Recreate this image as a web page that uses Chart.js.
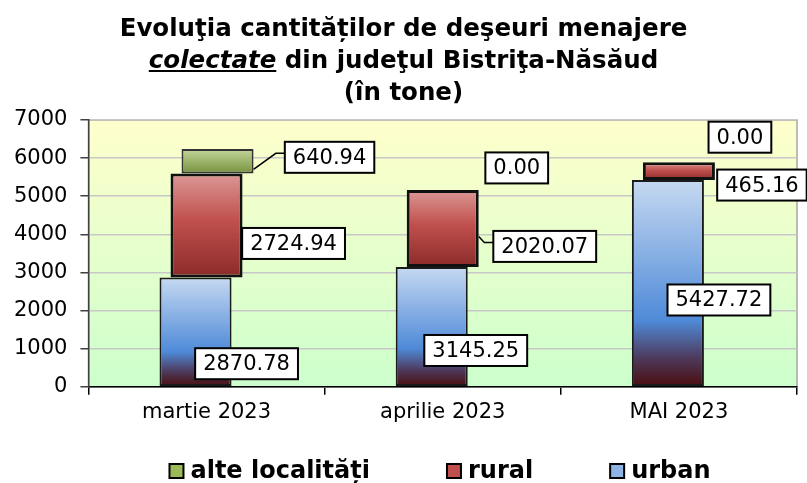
<!DOCTYPE html>
<html>
<head>
<meta charset="utf-8">
<script src="https://cdn.jsdelivr.net/npm/chart.js@4.4.1/dist/chart.umd.min.js"></script>
<style>
  html, body { margin: 0; padding: 0; background: #fff; }
  #wrap { position: relative; width: 807px; height: 483px; }
  #title {
    position: absolute; left: 0; top: 12px; width: 807px;
    text-align: center; color: #000;
    font: bold 24.5px "DejaVu Sans", sans-serif; line-height: 32px;
  }
</style>
</head>
<body>
<div id="wrap">
  <canvas id="graph" width="807" height="483"></canvas>
  <div id="title">Evoluţia cantităților de deşeuri menajere<br><i><u>colectate</u></i> din judeţul Bistriţa-Năsăud<br>(în tone)</div>
</div>
<script>
// data
const categories = ['martie 2023', 'aprilie 2023', 'MAI 2023'];
const urban = [2870.78, 3145.25, 5427.72];
const rural = [2724.94, 2020.07, 465.16];
const alteLocalitati = [640.94, 0.00, 0.00];
const seriesNames = ['urban', 'rural', 'alte localități'];
const yMin = 0, yMax = 7000, yStep = 1000;

const seriesValues = [urban, rural, alteLocalitati];

// styles: depth shift of each series, gradients, label box offsets
const seriesStyle = [
  { shift: -11, border: '#1a1a1a', width: 2, legend: '#8db4e2',
    stops: [[0, '#c6d9f1'], [0.68, '#4f8ad8'], [0.86, '#4d3a5c'], [1, '#4a0c0c']],
    labelOffsets: [[15, 32], [8, 24], [15, 17]] },
  { shift: 0, border: '#111', width: 3, legend: '#c0504d',
    stops: [[0, '#db9896'], [0.45, '#c0504d'], [1, '#8a2b29']],
    labelOffsets: [[51, 18], [66, 18], [47, 14]] },
  { shift: 11, border: '#333', width: 2, legend: '#9bbb59',
    stops: [[0, '#c3d69b'], [1, '#76923c']],
    labelOffsets: [[76, -4], [27, -22], [14, -25]] }
];

function stackBase(di, i) {
  let s = 0;
  for (let k = 0; k < di; k++) s += seriesValues[k][i];
  return s;
}

function barFill(di) {
  return (ctx) => {
    const st = seriesStyle[di];
    if (ctx.type !== 'data') return st.legend;
    const y = ctx.chart.scales.y;
    if (!y) return st.legend;
    const base = stackBase(di, ctx.dataIndex);
    const top = y.getPixelForValue(base + seriesValues[di][ctx.dataIndex]);
    const bottom = y.getPixelForValue(base);
    if (!isFinite(top) || !isFinite(bottom) || top === bottom) return st.legend;
    const g = ctx.chart.ctx.createLinearGradient(0, top, 0, bottom);
    st.stops.forEach(s => g.addColorStop(s[0], s[1]));
    return g;
  };
}

const plotBackground = {
  id: 'plotBackground',
  beforeDraw(chart) {
    const { ctx, chartArea: a } = chart;
    const g = ctx.createLinearGradient(0, a.top, 0, a.bottom);
    g.addColorStop(0, '#ffffcc');
    g.addColorStop(1, '#ccffcc');
    ctx.save();
    ctx.fillStyle = g;
    ctx.fillRect(a.left, a.top, a.right - a.left, a.bottom - a.top);
    ctx.strokeStyle = '#a6a6a6';
    ctx.lineWidth = 1.5;
    ctx.strokeRect(a.left, a.top, a.right - a.left, a.bottom - a.top);
    ctx.restore();
  }
};

// shift each series sideways to mimic the depth of the original 3D columns
const depthShift = {
  id: 'depthShift',
  afterDatasetsUpdate(chart) {
    chart.data.datasets.forEach((ds, di) => {
      chart.getDatasetMeta(di).data.forEach(el => { el.x += seriesStyle[di].shift; });
    });
  }
};

const valueLabels = {
  id: 'valueLabels',
  afterDatasetsDraw(chart) {
    const ctx = chart.ctx;
    ctx.save();
    ctx.font = '21px "DejaVu Sans"';
    ctx.textAlign = 'center';
    ctx.textBaseline = 'middle';
    chart.data.datasets.forEach((ds, di) => {
      const meta = chart.getDatasetMeta(di);
      meta.data.forEach((el, i) => {
        const right = el.x + el.width / 2;
        const midY = (el.y + el.base) / 2;
        const off = seriesStyle[di].labelOffsets[i];
        const cx = right + off[0], cy = midY + off[1];
        const text = seriesValues[di][i].toFixed(2);
        const w = ctx.measureText(text).width + 16, h = 31;
        const left = cx - w / 2;
        if (left - right > 10) {
          // leader line from the bar to its label box
          const startY = Math.min(midY + 8, el.base - 4);
          ctx.strokeStyle = '#000';
          ctx.lineWidth = 1.5;
          ctx.beginPath();
          ctx.moveTo(right, startY);
          ctx.lineTo(left - 9, cy - 4);
          ctx.lineTo(left, cy - 4);
          ctx.stroke();
        }
        ctx.fillStyle = '#fff';
        ctx.fillRect(left, cy - h / 2, w, h);
        ctx.strokeStyle = '#000';
        ctx.lineWidth = 2;
        ctx.strokeRect(left, cy - h / 2, w, h);
        ctx.fillStyle = '#000';
        ctx.fillText(text, cx, cy + 1);
      });
    });
    ctx.restore();
  }
};

// legend drawn by hand so the item spacing can match the original
const bottomLegend = {
  id: 'bottomLegend',
  afterDraw(chart) {
    const ctx = chart.ctx;
    ctx.save();
    ctx.font = 'bold 24px "DejaVu Sans"';
    ctx.textBaseline = 'middle';
    ctx.textAlign = 'left';
    const order = [2, 1, 0];
    const box = 14, gapText = 7, gapItem = 77;
    const widths = order.map(di => box + gapText + ctx.measureText(seriesNames[di]).width);
    const total = widths.reduce((a, b) => a + b, 0) + gapItem * (order.length - 1);
    let x = 440 - total / 2;
    const y = 471;
    order.forEach((di, k) => {
      ctx.fillStyle = seriesStyle[di].legend;
      ctx.fillRect(x, y - box / 2, box, box);
      ctx.strokeStyle = '#000';
      ctx.lineWidth = 2;
      ctx.strokeRect(x, y - box / 2, box, box);
      ctx.fillStyle = '#000';
      ctx.fillText(seriesNames[di], x + box + gapText, y + 1);
      x += widths[k] + gapItem;
    });
    ctx.restore();
  }
};

new Chart(document.getElementById('graph').getContext('2d'), {
  type: 'bar',
  data: {
    labels: categories,
    datasets: seriesValues.map((vals, di) => ({
      label: seriesNames[di],
      data: vals,
      backgroundColor: barFill(di),
      borderColor: seriesStyle[di].border,
      borderWidth: seriesStyle[di].width,
      borderSkipped: false,
      categoryPercentage: 1,
      barPercentage: 0.305
    }))
  },
  options: {
    responsive: false,
    animation: false,
    layout: { padding: { top: 120, left: 1, right: 10, bottom: 53 } },
    plugins: {
      legend: { display: false },
      title: { display: false },
      tooltip: { enabled: false }
    },
    scales: {
      x: {
        stacked: true,
        grid: { drawOnChartArea: false, tickLength: 8, color: '#000', lineWidth: 1.5 },
        border: { color: '#000', width: 1.5 },
        ticks: { color: '#000', font: { family: 'DejaVu Sans', size: 21 }, padding: 5 }
      },
      y: {
        stacked: true,
        min: yMin,
        max: yMax,
        grid: { color: '#c8c8c8', lineWidth: 1.5, tickLength: 8, tickColor: '#404040' },
        border: { color: '#404040', width: 1.5 },
        ticks: { stepSize: yStep, color: '#000', font: { family: 'DejaVu Sans', size: 21 }, padding: 13,
                 callback: v => String(v) }
      }
    }
  },
  plugins: [plotBackground, depthShift, valueLabels, bottomLegend]
});
</script>
</body>
</html>
